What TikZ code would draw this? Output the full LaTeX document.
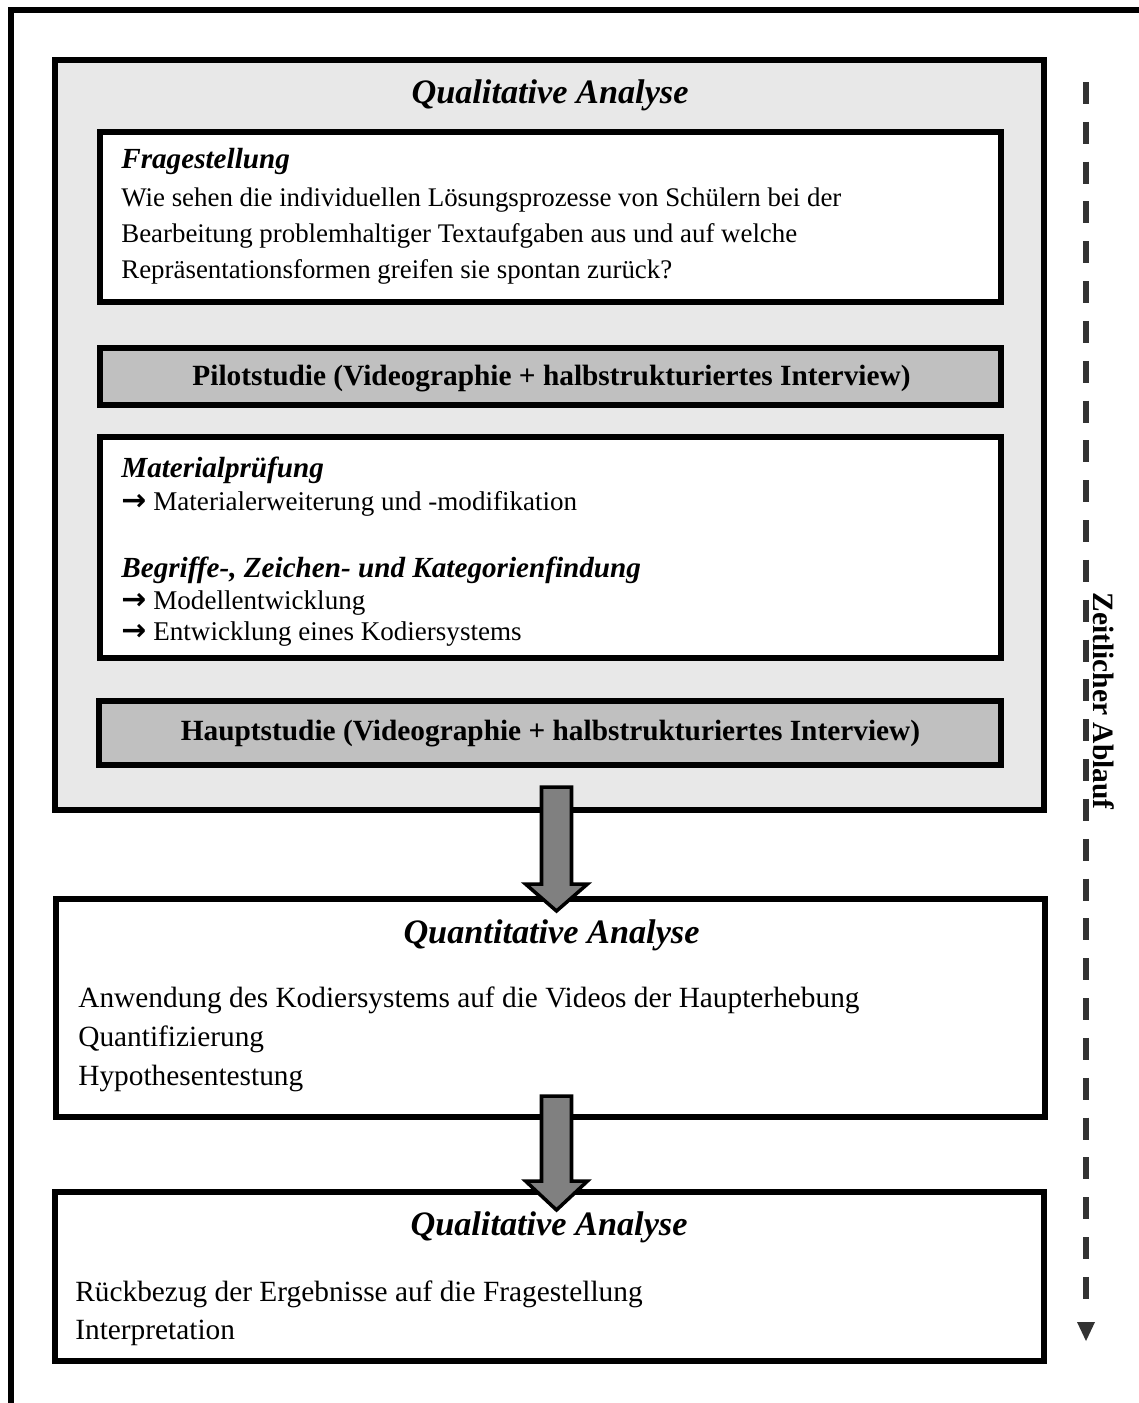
\documentclass[tikz,border=0pt]{standalone}
\usepackage{fontspec}
\setmainfont{Liberation Serif}
\newfontfamily\arrfont{DejaVu Sans}
\definecolor{panelgray}{HTML}{E8E8E8}
\definecolor{bargray}{HTML}{C0C0C0}
\definecolor{arrowgray}{HTML}{808080}
\definecolor{timegray}{HTML}{333333}
\newcommand\matarrow{{\arrfont\bfseries\fontsize{17}{18}\selectfont →}\hspace{4pt}}
\begin{document}
\begin{tikzpicture}[x=0.02cm,y=-0.02cm,
  outerframe/.style={line width=3.2pt},
  panel/.style={draw, line width=3pt, fill=panelgray, inner sep=0pt, outer sep=0pt},
  whitebox/.style={draw, line width=3pt, fill=white, inner sep=0pt, outer sep=0pt},
  graybar/.style={draw, line width=3pt, fill=bargray, inner sep=0pt, outer sep=0pt},
  titletext/.style={anchor=base, inner sep=0pt, font=\fontsize{19.5}{23}\selectfont\bfseries\itshape},
  headtext/.style={anchor=base west, inner sep=0pt, font=\fontsize{16.6}{20}\selectfont\bfseries\itshape},
  bodytext/.style={anchor=base west, inner sep=0pt, font=\fontsize{15.3}{18}\selectfont},
  listtext/.style={anchor=base west, inner sep=0pt, font=\fontsize{15.4}{18}\selectfont},
  bigbody/.style={anchor=base west, inner sep=0pt, font=\fontsize{16.7}{20}\selectfont},
  bartext/.style={anchor=base, inner sep=0pt, font=\fontsize{16.7}{20}\selectfont\bfseries},
  blockarrow/.style={draw, line width=2pt, fill=arrowgray, line join=miter},
  timeline/.style={draw=timegray, line width=3.4pt, dash pattern=on 12.47pt off 10.2pt},
]
\useasboundingbox (0,0) rectangle (1139,1403);
\fill[white] (0,0) rectangle (1139,1403);
\draw[outerframe] (11,1405) -- (11,10) -- (1141,10);

% first qualitative panel
\node[panel, minimum width=19.78cm, minimum height=15cm] (qualA) at (549.5,435) {};
\node[titletext] (qualAtitle) at (550,103) {Qualitative Analyse};

\node[whitebox, minimum width=18.02cm, minimum height=3.4cm] (frage) at (550.5,217) {};
\node[headtext] (frageHead) at (121,168) {Fragestellung};
\node[bodytext] (frage1) at (121,206) {Wie sehen die individuellen Lösungsprozesse von Schülern bei der};
\node[bodytext] (frage2) at (121,242) {Bearbeitung problemhaltiger Textaufgaben aus und auf welche};
\node[bodytext] (frage3) at (121,278) {Repräsentationsformen greifen sie spontan zurück?};

\node[graybar, minimum width=18.02cm, minimum height=1.14cm] (pilot) at (550.5,376.5) {};
\node[bartext] (pilotText) at (551.5,385) {Pilotstudie (Videographie + halbstrukturiertes Interview)};

\node[whitebox, minimum width=18.02cm, minimum height=4.42cm] (mat) at (550.5,547.5) {};
\node[headtext] (matHead) at (121,477) {Materialprüfung};
\node[listtext] (mat1) at (121,510) {\matarrow Materialerweiterung und -modifikation};
\node[headtext] (begHead) at (121,577) {Begriffe-, Zeichen- und Kategorienfindung};
\node[listtext] (beg1) at (121,609) {\matarrow Modellentwicklung};
\node[listtext] (beg2) at (121,640) {\matarrow Entwicklung eines Kodiersystems};

\node[graybar, minimum width=18.04cm, minimum height=1.28cm] (haupt) at (550,733) {};
\node[bartext] (hauptText) at (550.5,740) {Hauptstudie (Videographie + halbstrukturiertes Interview)};

% quantitative
\node[whitebox, minimum width=19.78cm, minimum height=4.36cm] (quant) at (550.5,1008) {};
\node[titletext] (quantTitle) at (551.5,943) {Quantitative Analyse};
\node[bigbody] (q1) at (78,1007) {Anwendung des Kodiersystems auf die Videos der Haupterhebung};
\node[bigbody] (q2) at (78,1046) {Quantifizierung};
\node[bigbody] (q3) at (78,1085) {Hypothesentestung};

% second qualitative
\node[whitebox, minimum width=19.78cm, minimum height=3.38cm] (qualB) at (549.5,1276.5) {};
\node[titletext] (qualBTitle) at (549,1235) {Qualitative Analyse};
\node[bigbody] (r1) at (75,1301) {Rückbezug der Ergebnisse auf die Fragestellung};
\node[bigbody] (r2) at (75,1339) {Interpretation};

% block arrows
\coordinate (arrowOneTop) at (556.5,787);
\coordinate (arrowTwoTop) at (556.5,1096);
\draw[blockarrow] (arrowOneTop) ++(-15,0) -- ++(30,0) -- ++(0,97) -- ++(16,0) -- ++(-31,27) -- ++(-31,-27) -- ++(16,0) -- cycle;
\draw[blockarrow] (arrowTwoTop) ++(-15,0) -- ++(30,0) -- ++(0,85) -- ++(16,0) -- ++(-31,29) -- ++(-31,-29) -- ++(16,0) -- cycle;

% time line
\coordinate (timeTop) at (1086,82);
\coordinate (timeEnd) at (1086,1310);
\coordinate (timeTip) at (1086,1341);
\draw[timeline] (timeTop) -- (timeEnd);
\fill[timegray] (timeTip) -- ++(-9,-19) -- ++(18,0) -- cycle;
\node[rotate=-90, font=\fontsize{16.8}{20}\selectfont\bfseries, inner sep=0pt] (timeLabel) at (1104,701) {Zeitlicher Ablauf};
\end{tikzpicture}
\end{document}
